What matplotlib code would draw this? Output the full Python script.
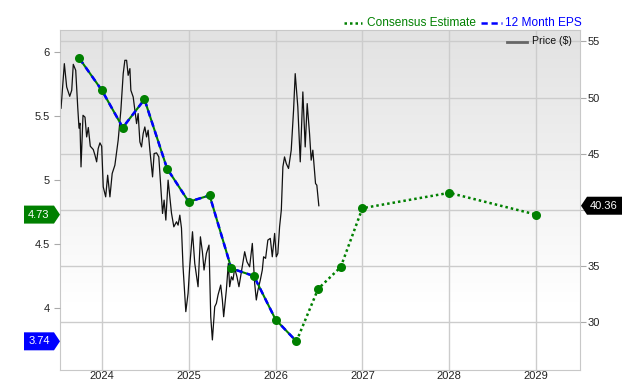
import numpy as np
import matplotlib.pyplot as plt
import matplotlib.transforms as mtransforms
from matplotlib.patches import Polygon
from matplotlib.lines import Line2D
from matplotlib.colors import LinearSegmentedColormap

plt.rcParams['font.family'] = ['Liberation Sans', 'DejaVu Sans']

# share price, weekly-ish (decimal year, $)
price_t = [2023.529, 2023.567, 2023.594, 2023.629, 2023.652, 2023.670, 2023.698, 2023.721,
           2023.736, 2023.747, 2023.759, 2023.782, 2023.805, 2023.824, 2023.843, 2023.866,
           2023.900, 2023.920, 2023.939, 2023.957, 2023.977, 2023.997, 2024.015, 2024.043,
           2024.066, 2024.092, 2024.118, 2024.149, 2024.187, 2024.218, 2024.245, 2024.264,
           2024.284, 2024.302, 2024.322, 2024.333, 2024.360, 2024.379, 2024.399, 2024.417,
           2024.437, 2024.456, 2024.475, 2024.494, 2024.514, 2024.532, 2024.552, 2024.583,
           2024.601, 2024.629, 2024.655, 2024.678, 2024.698, 2024.716, 2024.736, 2024.762,
           2024.801, 2024.828, 2024.859, 2024.877, 2024.897, 2024.916, 2024.934, 2024.966,
           2024.992, 2025.011, 2025.043, 2025.069, 2025.107, 2025.134, 2025.157, 2025.176,
           2025.203, 2025.233, 2025.253, 2025.272, 2025.299, 2025.318, 2025.337, 2025.368,
           2025.387, 2025.402, 2025.433, 2025.456, 2025.471, 2025.491, 2025.509, 2025.529,
           2025.555, 2025.578, 2025.606, 2025.644, 2025.670, 2025.701, 2025.732, 2025.759,
           2025.778, 2025.797, 2025.824, 2025.847, 2025.862, 2025.885, 2025.911, 2025.939,
           2025.962, 2025.989, 2026.008, 2026.026, 2026.046, 2026.066, 2026.084, 2026.103,
           2026.123, 2026.149, 2026.180, 2026.207, 2026.226, 2026.256, 2026.284, 2026.314,
           2026.341, 2026.364, 2026.391, 2026.410, 2026.429, 2026.460, 2026.475, 2026.498]
price_v = [49.05, 53.02, 50.94, 50.11, 50.65, 52.96, 52.43, 49.16,
           47.27, 47.71, 43.82, 48.42, 48.25, 46.49, 47.33, 45.66,
           45.37, 44.86, 44.27, 45.46, 45.96, 45.66, 42.04, 41.15,
           43.08, 41.15, 43.23, 43.97, 46.20, 48.87, 52.13, 53.32,
           53.32, 51.98, 52.58, 50.65, 50.05, 48.87, 47.68, 48.57,
           46.05, 45.60, 46.79, 47.38, 46.49, 47.09, 45.31, 42.93,
           45.01, 45.07, 44.71, 42.04, 39.67, 40.86, 39.08, 42.64,
           39.70, 38.48, 38.93, 38.63, 39.52, 38.37, 34.93, 30.92,
           32.55, 34.93, 38.04, 35.22, 33.14, 37.59, 36.26, 34.63,
           36.11, 36.85, 30.47, 28.40, 31.36, 31.66, 32.40, 33.29,
           31.96, 30.47, 32.85, 35.22, 33.14, 34.03, 33.74, 34.78,
           34.03, 33.14, 34.48, 36.26, 35.37, 34.92, 37.00, 33.44,
           31.96, 32.85, 33.74, 34.63, 35.81, 35.67, 37.30, 37.45,
           35.81, 37.89, 35.81, 36.11, 38.48, 39.97, 43.82, 44.71,
           44.12, 43.68, 45.31, 48.87, 52.13, 49.16, 44.27, 50.50,
           45.60, 49.46, 46.79, 44.42, 45.31, 42.34, 42.19, 40.36]

# trailing 12 month EPS and consensus estimates
eps_t = [2023.74, 2024.0, 2024.24, 2024.49, 2024.75, 2025.0, 2025.24, 2025.49,
         2025.75, 2026.0, 2026.24]
eps_v = [5.95, 5.70, 5.41, 5.63, 5.09, 4.83, 4.88, 4.31, 4.25, 3.91, 3.74]
est_t = [2026.24, 2026.49, 2026.75, 2027.0, 2028.0, 2029.0]
est_v = [3.74, 4.15, 4.32, 4.78, 4.90, 4.73]

year_ticks = [2024, 2025, 2026, 2027, 2028, 2029]
year_labels = ['2024', '2025', '2026', '2027', '2028', '2029']
eps_ticks = [4, 4.5, 5, 5.5, 6]
eps_labels = ['4', '4.5', '5', '5.5', '6']
price_ticks = [30, 35, 40, 45, 50, 55]
price_labels = ['30', '35', '', '45', '50', '55']  # 40 sits under the price badge

GREEN = '#008000'
BLUE = '#0000ff'
GRID = '#cccccc'

fig = plt.figure(figsize=(6.4, 3.8), dpi=100)
ax = fig.add_axes([60 / 640, 10 / 380, 520 / 640, 340 / 380])
ax2 = ax.twinx()

xlim = (2023.517, 2029.506)
plim = (25.72, 56.02)
elim = (3.516, 6.172)

# grey-to-white background
bg = LinearSegmentedColormap.from_list('bg', [(0, '#ffffff'), (0.2, '#ffffff'),
                                              (1, '#e2e2e2')])
ax.imshow(np.linspace(0, 1, 256).reshape(-1, 1), cmap=bg, origin='lower',
          extent=[xlim[0], xlim[1], plim[0], plim[1]], aspect='auto', zorder=0)
ax.set_xlim(xlim)
ax.set_ylim(plim)
ax.set_axisbelow(True)
ax.grid(color=GRID, lw=1)

ax.plot(price_t, price_v, color='#111111', lw=0.9, zorder=2)

ax.yaxis.tick_right()
ax.set_yticks(price_ticks, price_labels)
ax.set_xticks(year_ticks, year_labels)
ax.tick_params(axis='x', length=0, pad=0.8, labelsize=8, labelcolor='#222222')
ax.tick_params(axis='y', length=4.3, color='#aaaaaa', pad=1.5, labelsize=8,
               labelcolor='#222222')
for s in ax.spines.values():
    s.set_color('#c8c8c8')

ax2.yaxis.tick_left()
ax2.set_ylim(elim)
ax2.set_yticks(eps_ticks, eps_labels)
ax2.tick_params(axis='y', length=4.3, color='#aaaaaa', pad=3, labelsize=8,
                labelcolor='#222222')
for s in ax2.spines.values():
    s.set_visible(False)

# eps lines
ax2.plot(eps_t, eps_v, color=GREEN, lw=1.5, zorder=3)
ax2.plot(eps_t, eps_v, color=BLUE, lw=1.8, dashes=(2.5, 1.8), zorder=3)
ax2.plot(est_t, est_v, color=GREEN, lw=1.8, ls=(0, (1, 1.2)), zorder=3)
ax2.plot(eps_t + est_t[1:], eps_v + est_v[1:], 'o', color=GREEN, ms=6.5,
         mec='none', zorder=4)


def badge(axis, xa, y, text, color, side):
    trans = mtransforms.blended_transform_factory(axis.transAxes, axis.transData)
    off = mtransforms.Affine2D().scale(fig.dpi / 100) + \
        mtransforms.ScaledTranslation(xa, y, trans)
    if side == 'left':
        verts = [(0, 0), (-6, 9), (-36, 9), (-36, -9), (-6, -9)]
        cx = -21
    else:
        verts = [(1, 0), (7, 9), (42, 9), (42, -9), (7, -9)]
        cx = 24
    fig.add_artist(Polygon(verts, closed=True, transform=off, color=color, lw=0,
                           zorder=5))
    fig.text(cx, 0, text, transform=off, ha='center', va='center',
             color='white', fontsize=8, zorder=6)


badge(ax2, 0, est_v[-1], '%.2f' % est_v[-1], GREEN, 'left')
badge(ax2, 0, eps_v[-1], '%.2f' % eps_v[-1], BLUE, 'left')
badge(ax, 1, price_v[-1], '%.2f' % price_v[-1], 'black', 'right')


# legends
def fx(px):
    return px / 640


def fy(py):
    return 1 - py / 380


fig.add_artist(Line2D([fx(344), fx(362)], [fy(23)] * 2, color=GREEN, lw=1.8,
                      ls=(0, (1, 1.2))))
fig.text(fx(367), fy(23), 'Consensus Estimate', color=GREEN, fontsize=8.6,
         va='center')
fig.add_artist(Line2D([fx(481), fx(502)], [fy(23)] * 2, color=BLUE, lw=1.8,
                      dashes=(2.5, 1.5)))
fig.text(fx(505), fy(23), '12 Month EPS', color=BLUE, fontsize=8.6, va='center')

fig.add_artist(Line2D([fx(507), fx(527)], [fy(41.5)] * 2, color='#666666', lw=2))
fig.text(fx(532), fy(41.5), 'Price ($)', color='#111111', fontsize=7.6,
         va='center')

fig.savefig('out.png', dpi=100)
